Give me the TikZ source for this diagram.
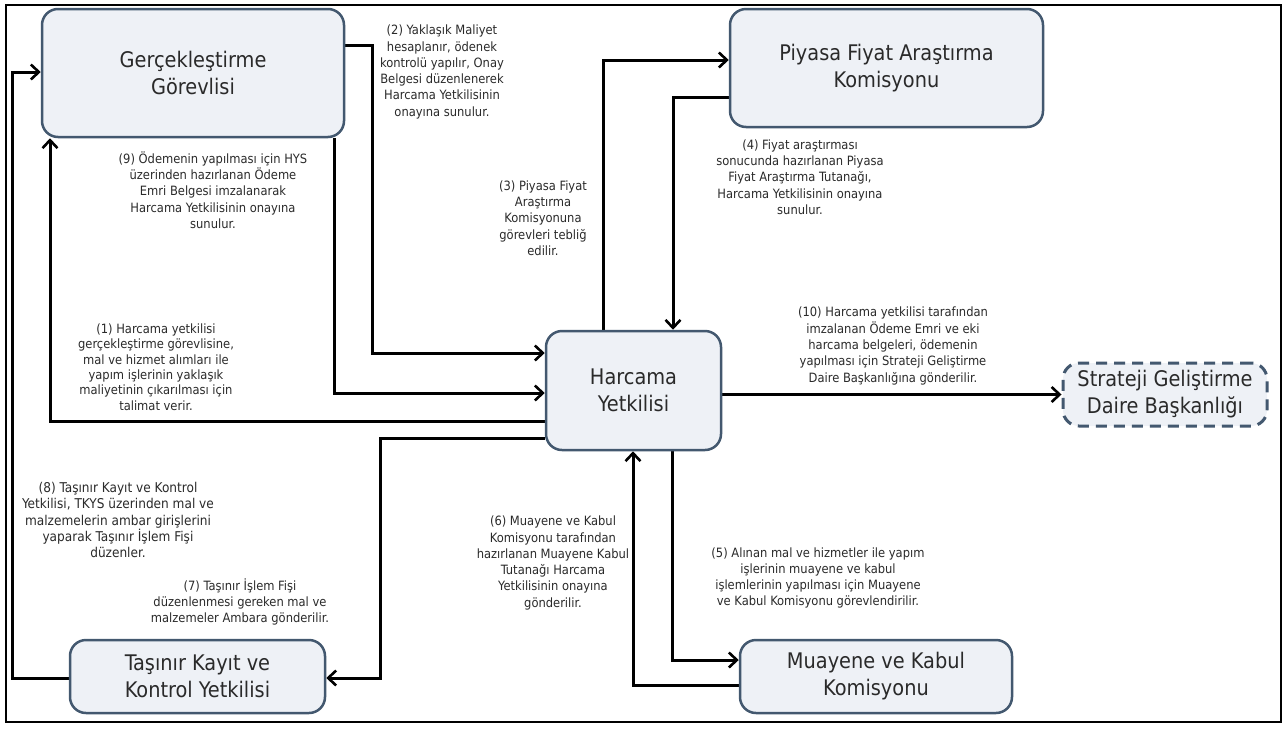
\documentclass[tikz,border=0pt]{standalone}
\usepackage{fontspec}
\setmainfont{DejaVu Sans Condensed}
\usetikzlibrary{arrows.meta,backgrounds}
\definecolor{boxfill}{HTML}{EEF1F6}
\definecolor{boxdraw}{HTML}{43586F}
\definecolor{txt}{HTML}{2A2A2A}
\tikzset{
  boxnode/.style={draw=boxdraw, fill=boxfill, line width=2.5pt, rounded corners=16pt,
    align=center, text=txt, font=\fontsize{21.5}{27}\selectfont, inner sep=0pt},
  dashbox/.style={boxnode, dash pattern=on 11pt off 7pt, line width=3pt},
  lbl/.style={align=center, text=txt, font=\fontsize{12.8}{16.3}\selectfont, inner sep=0pt},
  conn/.style={line width=3pt, -{Straight Barb[length=8pt,width=15pt,line width=2.6pt]}},
}
\begin{document}
\begin{tikzpicture}[x=1pt,y=-1pt]
\useasboundingbox (0,0) rectangle (1288,729);
\draw[line width=1.8pt, black] (6,5) rectangle (1281,722);

% boxes
\node[boxnode, minimum width=302pt, minimum height=128pt] (G) at (193,73) {Gerçekleştirme\\Görevlisi};
\node[boxnode, minimum width=313pt, minimum height=118pt] (P) at (886.5,68) {Piyasa Fiyat Araştırma\\Komisyonu};
\node[boxnode, minimum width=175pt, minimum height=119pt] (H) at (633.5,390.5) {Harcama\\Yetkilisi};
\node[dashbox, minimum width=204pt, minimum height=63pt] (S) at (1165,394.5) {Strateji Geliştirme\\Daire Başkanlığı};
\node[boxnode, minimum width=255pt, minimum height=73pt] (T) at (197.5,676.5) {Taşınır Kayıt ve\\Kontrol Yetkilisi};
\node[boxnode, minimum width=272pt, minimum height=73pt] (M) at (876,676.5) {Muayene ve Kabul\\Komisyonu};

% bend coordinates
\coordinate (b1) at (50,421);
\coordinate (b2a) at (372,45);
\coordinate (b2b) at (372,353);
\coordinate (b9) at (334,393);
\coordinate (b3) at (603,60);
\coordinate (b4) at (673,97);
\coordinate (b5) at (672,660);
\coordinate (b6) at (633,685);
\coordinate (b7a) at (380,438);
\coordinate (b7b) at (380,678);
\coordinate (b8a) at (12,678);
\coordinate (b8b) at (12,72);

\begin{scope}[on background layer]
\draw[conn] (H.west |- b1) -- (b1) -- (G.south -| b1);
\draw[conn] (G.east |- b2a) -- (b2a) -- (b2b) -- (H.west |- b2b);
\draw[conn] (G.south -| b9) -- (b9) -- (H.west |- b9);
\draw[conn] (H.north -| b3) -- (b3) -- (P.west |- b3);
\draw[conn] (P.west |- b4) -- (b4) -- (H.north -| b4);
\draw[conn] (H.east |- S.west) -- (S.west);
\draw[conn] (H.south -| b5) -- (b5) -- (M.west |- b5);
\draw[conn] (M.west |- b6) -- (b6) -- (H.south -| b6);
\draw[conn] (H.west |- b7a) -- (b7a) -- (b7b) -- (T.east |- b7b);
\draw[conn] (T.west |- b8a) -- (b8a) -- (b8b) -- (G.west |- b8b);
\end{scope}

% labels
\node[lbl] (l2) at (442,72) {(2) Yaklaşık  Maliyet\\hesaplanır, ödenek\\kontrolü yapılır, Onay\\Belgesi düzenlenerek\\Harcama Yetkilisinin\\onayına sunulur.};
\node[lbl] (l9) at (213,190) {(9) Ödemenin yapılması için HYS\\üzerinden hazırlanan Ödeme\\Emri Belgesi imzalanarak\\Harcama Yetkilisinin  onayına\\sunulur.};
\node[lbl] (l3) at (543,218) {(3) Piyasa Fiyat\\Araştırma\\Komisyonuna\\görevleri tebliğ\\edilir.};
\node[lbl] (l4) at (800,177) {(4) Fiyat araştırması\\sonucunda hazırlanan Piyasa\\Fiyat Araştırma Tutanağı,\\Harcama Yetkilisinin  onayına\\sunulur.};
\node[lbl, font=\fontsize{12.8}{15.4}\selectfont] (l1) at (156,367) {(1) Harcama yetkilisi\\gerçekleştirme görevlisine,\\mal ve hizmet alımları  ile\\yapım işlerinin yaklaşık\\maliyetinin çıkarılması  için\\talimat verir.};
\node[lbl] (l10) at (893,346) {(10) Harcama yetkilisi tarafından\\imzalanan Ödeme Emri  ve eki\\harcama belgeleri, ödemenin\\yapılması için Strateji Geliştirme\\Daire Başkanlığına gönderilir.};
\node[lbl, font=\fontsize{13.5}{16.2}\selectfont] (l8) at (118,520) {(8) Taşınır Kayıt ve Kontrol\\Yetkilisi, TKYS üzerinden mal  ve\\malzemelerin  ambar girişlerini\\yaparak Taşınır İşlem  Fişi\\düzenler.};
\node[lbl] (l7) at (240,602) {(7) Taşınır İşlem  Fişi\\düzenlenmesi gereken mal ve\\malzemeler  Ambara gönderilir.};
\node[lbl] (l6) at (553,563) {(6) Muayene ve Kabul\\Komisyonu  tarafından\\hazırlanan Muayene Kabul\\Tutanağı Harcama\\Yetkilisinin  onayına\\gönderilir.};
\node[lbl] (l5) at (818,578) {(5) Alınan mal  ve hizmetler ile  yapım\\işlerinin  muayene ve kabul\\işlemlerinin  yapılması için Muayene\\ve Kabul Komisyonu görevlendirilir.};
\end{tikzpicture}
\end{document}
